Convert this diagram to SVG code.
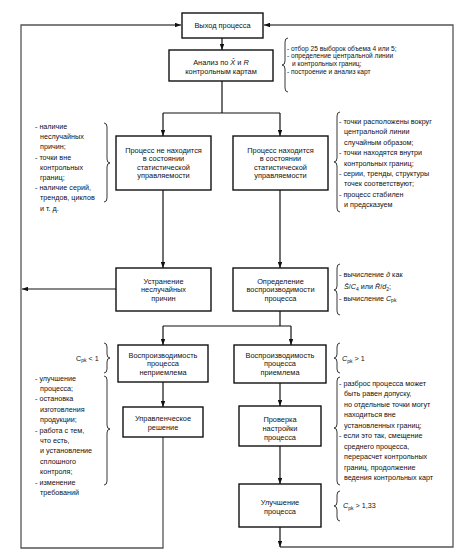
<svg xmlns="http://www.w3.org/2000/svg" width="470" height="560" viewBox="0 0 470 560">
<defs>
<marker id="ah" viewBox="0 0 8 6" refX="8" refY="3" markerWidth="6" markerHeight="4.5" orient="auto" markerUnits="userSpaceOnUse">
<path d="M0,0 L8,3 L0,6 Z" fill="#111"/>
</marker>
</defs>
<style>
.box{fill:#fff;stroke:#111;stroke-width:1.4}
.bt{font-family:"Liberation Sans",Arial,sans-serif;font-size:7.4px;fill:#111;text-anchor:middle}
.an{font-family:"Liberation Sans",Arial,sans-serif;font-size:7.2px;fill:#111}
.an2{font-family:"Liberation Sans",Arial,sans-serif;font-size:6.6px;fill:#111}
.ln{fill:none;stroke:#111;stroke-width:1.2}
.out{fill:none;stroke:#555;stroke-width:1.3}
.br{fill:none;stroke:#222;stroke-width:0.9}
.i{font-style:italic}
.dj{font-family:"DejaVu Sans",sans-serif;font-style:italic;font-size:6.6px}
</style>
<rect width="470" height="560" fill="#fff"/>

<g id="connectors">
<path class="out" d="M163,437 V548 H21 V25 H181" marker-end="url(#ah)"/>
<path class="out" d="M280,547 H453 V25 H264" marker-end="url(#ah)"/>
<path class="ln" d="M280,527 V547" marker-end="url(#ah)"/>
<path class="ln" d="M116,289 H22" marker-end="url(#ah)"/>
<path class="ln" d="M222,38 V50" marker-end="url(#ah)"/>
<path class="ln" d="M222,81 V113 M163,113 H280"/>
<path class="ln" d="M163,113 V136" marker-end="url(#ah)"/>
<path class="ln" d="M280,113 V136" marker-end="url(#ah)"/>
<path class="ln" d="M163,190 V268" marker-end="url(#ah)"/>
<path class="ln" d="M280,190 V268" marker-end="url(#ah)"/>
<path class="ln" d="M280,311 V326 M163,326 H291"/>
<path class="ln" d="M163,326 V345" marker-end="url(#ah)"/>
<path class="ln" d="M291,326 V345" marker-end="url(#ah)"/>
<path class="ln" d="M163,382 V407" marker-end="url(#ah)"/>
<path class="ln" d="M280,383 V406" marker-end="url(#ah)"/>
<path class="ln" d="M280,446 V484" marker-end="url(#ah)"/>
</g>

<g id="n-output">
<rect class="box" x="182" y="13" width="81" height="25"/>
<text class="bt" x="222.5" y="28">Выход процесса</text>
</g>

<g id="n-analysis">
<rect class="box" x="169" y="50" width="104" height="31"/>
<text class="bt" x="221" y="64.5">Анализ по <tspan class="i">X̄</tspan> и <tspan class="i">R</tspan></text>
<text class="bt" x="221" y="73.5">контрольным картам</text>
</g>

<g id="n-notcontrolled">
<rect class="box" x="116" y="136" width="95" height="54"/>
<text class="bt" x="163.5" y="152.5">Процесс не находится</text>
<text class="bt" x="163.5" y="161">в состоянии</text>
<text class="bt" x="163.5" y="169.5">статистической</text>
<text class="bt" x="163.5" y="178">управляемости</text>
</g>

<g id="n-controlled">
<rect class="box" x="233" y="136" width="95" height="54"/>
<text class="bt" x="280.5" y="152.5">Процесс находится</text>
<text class="bt" x="280.5" y="161">в состоянии</text>
<text class="bt" x="280.5" y="169.5">статистической</text>
<text class="bt" x="280.5" y="178">управляемости</text>
</g>

<g id="n-eliminate">
<rect class="box" x="116" y="268" width="95" height="43"/>
<text class="bt" x="163.5" y="283.5">Устранение</text>
<text class="bt" x="163.5" y="292">неслучайных</text>
<text class="bt" x="163.5" y="300.5">причин</text>
</g>

<g id="n-capability">
<rect class="box" x="233" y="268" width="95" height="43"/>
<text class="bt" x="280.5" y="283.5">Определение</text>
<text class="bt" x="280.5" y="292">воспроизводимости</text>
<text class="bt" x="280.5" y="300.5">процесса</text>
</g>

<g id="n-unacceptable">
<rect class="box" x="118" y="345" width="90" height="37"/>
<text class="bt" x="163" y="357.5">Воспроизводимость</text>
<text class="bt" x="163" y="366">процесса</text>
<text class="bt" x="163" y="374.5">неприемлема</text>
</g>

<g id="n-acceptable">
<rect class="box" x="234" y="345" width="92" height="38"/>
<text class="bt" x="280" y="357.5">Воспроизводимость</text>
<text class="bt" x="280" y="366">процесса</text>
<text class="bt" x="280" y="374.5">приемлема</text>
</g>

<g id="n-decision">
<rect class="box" x="123" y="407" width="80" height="30"/>
<text class="bt" x="163" y="420.5">Управленческое</text>
<text class="bt" x="163" y="430">решение</text>
</g>

<g id="n-check">
<rect class="box" x="239" y="406" width="82" height="40"/>
<text class="bt" x="280" y="421.5">Проверка</text>
<text class="bt" x="280" y="430.5">настройки</text>
<text class="bt" x="280" y="439.5">процесса</text>
</g>

<g id="n-improve">
<rect class="box" x="239" y="484" width="82" height="43"/>
<text class="bt" x="280" y="504.5">Улучшение</text>
<text class="bt" x="280" y="513.5">процесса</text>
</g>

<g id="annotations">
<path class="br" d="M288,38 Q285,38 285,42 L285,61 Q285,65 282,65 Q285,65 285,69 L285,88 Q285,92 288,92"/>
<text class="an2" x="287" y="50.5">- отбор 25 выборок объема 4 или 5;</text>
<text class="an2" x="287" y="58.2">- определение центральной линии</text>
<text class="an2" x="292" y="65.9">и контрольных границ;</text>
<text class="an2" x="287" y="73.6">- построение и анализ карт</text>

<path class="br" d="M104,123 Q107,123 107,127 L107,159 Q107,163 110,163 Q107,163 107,167 L107,198 Q107,202 104,202"/>
<text class="an" x="35" y="129">- наличие</text>
<text class="an" x="40" y="139.2">неслучайных</text>
<text class="an" x="40" y="149.4">причин;</text>
<text class="an" x="35" y="159.6">- точки вне</text>
<text class="an" x="40" y="169.8">контрольных</text>
<text class="an" x="40" y="180">границ;</text>
<text class="an" x="35" y="190.2">- наличие серий,</text>
<text class="an" x="40" y="200.4">трендов, циклов</text>
<text class="an" x="40" y="210.6">и т. д.</text>

<path class="br" d="M340,112 Q337,112 337,116 L337,158 Q337,162 334,162 Q337,162 337,166 L337,208 Q337,212 340,212"/>
<text class="an" x="339" y="124">- точки расположены вокруг</text>
<text class="an" x="344" y="134.4">центральной линии</text>
<text class="an" x="344" y="144.8">случайным образом;</text>
<text class="an" x="339" y="155.2">- точки находятся внутри</text>
<text class="an" x="344" y="165.6">контрольных границ;</text>
<text class="an" x="339" y="176">- серии, тренды, структуры</text>
<text class="an" x="344" y="186.4">точек соответствуют;</text>
<text class="an" x="339" y="196.8">- процесс стабилен</text>
<text class="an" x="344" y="207.2">и предсказуем</text>

<path class="br" d="M340,264 Q337,264 337,268 L337,286 Q337,290 334,290 Q337,290 337,294 L337,311 Q337,315 340,315"/>
<text class="an" x="339" y="277">- вычисление <tspan class="dj">σ̂</tspan> как</text>
<text class="an" x="344" y="289"><tspan class="i">S̄</tspan>/<tspan class="i">C</tspan><tspan font-size="5" dy="1.5">4</tspan><tspan dy="-1.5"> или </tspan><tspan class="i">R̄</tspan>/<tspan class="i">d</tspan><tspan font-size="5" dy="1.5">2</tspan><tspan dy="-1.5">;</tspan></text>
<text class="an" x="339" y="300.5">- вычисление <tspan class="i">C</tspan><tspan font-size="5" dy="1.5">pk</tspan></text>

<path class="br" d="M104,343 Q107,343 107,347 L107,354 Q107,358 110,358 Q107,358 107,362 L107,369 Q107,373 104,373"/>
<text class="an" x="76" y="360.5"><tspan>C</tspan><tspan font-size="5" dy="1.5">pk</tspan><tspan dy="-1.5"> &lt; 1</tspan></text>

<path class="br" d="M104,376 Q107,376 107,380 L107,425 Q107,429 110,429 Q107,429 107,433 L107,481 Q107,485 104,485"/>
<text class="an" x="35" y="380.5">- улучшение</text>
<text class="an" x="40" y="390.9">процесса;</text>
<text class="an" x="35" y="401.3">- остановка</text>
<text class="an" x="40" y="411.7">изготовления</text>
<text class="an" x="40" y="422.1">продукции;</text>
<text class="an" x="35" y="432.5">- работа с тем,</text>
<text class="an" x="40" y="442.9">что есть,</text>
<text class="an" x="40" y="453.3">и установление</text>
<text class="an" x="40" y="463.7">сплошного</text>
<text class="an" x="40" y="474.1">контроля;</text>
<text class="an" x="35" y="484.5">- изменение</text>
<text class="an" x="40" y="494.9">требований</text>

<path class="br" d="M340,343 Q337,343 337,347 L337,354 Q337,358 334,358 Q337,358 337,362 L337,369 Q337,373 340,373"/>
<text class="an" x="342" y="361"><tspan class="i">C</tspan><tspan font-size="5" dy="1.5">pk</tspan><tspan dy="-1.5"> &gt; 1</tspan></text>

<path class="br" d="M340,377 Q337,377 337,381 L337,424 Q337,428 334,428 Q337,428 337,432 L337,481 Q337,485 340,485"/>
<text class="an" x="339" y="385.5">- разброс процесса может</text>
<text class="an" x="344" y="396">быть равен допуску,</text>
<text class="an" x="344" y="406.5">но отдельные точки могут</text>
<text class="an" x="344" y="417">находиться вне</text>
<text class="an" x="344" y="427.5">установленных границ;</text>
<text class="an" x="339" y="438">- если это так, смещение</text>
<text class="an" x="344" y="448.5">среднего процесса,</text>
<text class="an" x="344" y="459">перерасчет контрольных</text>
<text class="an" x="344" y="469.5">границ, продолжение</text>
<text class="an" x="344" y="480">ведения контрольных карт</text>

<path class="br" d="M340,491 Q337,491 337,495 L337,502 Q337,506 334,506 Q337,506 337,510 L337,517 Q337,521 340,521"/>
<text class="an" x="343" y="508"><tspan class="i">C</tspan><tspan font-size="5" dy="1.5">pk</tspan><tspan dy="-1.5"> &gt; 1,33</tspan></text>
</g>
</svg>
